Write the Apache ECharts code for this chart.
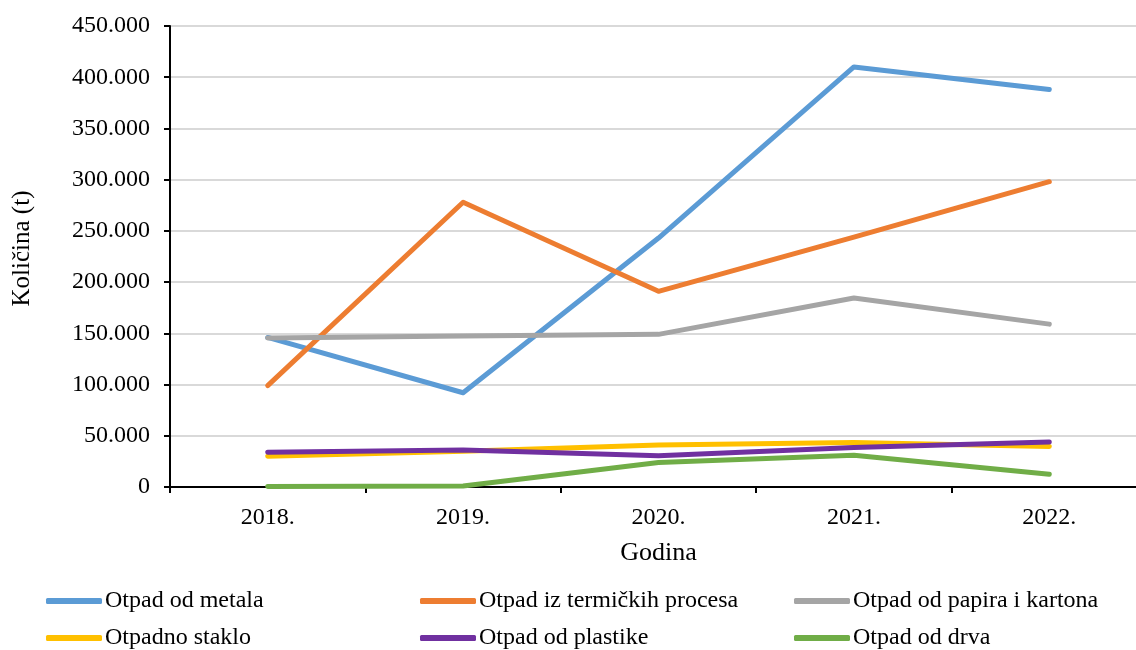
<!DOCTYPE html>
<html>
<head>
<meta charset="utf-8">
<script src="https://cdn.jsdelivr.net/npm/echarts@6/dist/echarts.min.js"></script>
<style>
html,body{margin:0;padding:0;background:#fff;}
#chart{width:1136px;height:650px;}
</style>
</head>
<body>
<div id="chart"></div>
<script>
const categories = ['2018.', '2019.', '2020.', '2021.', '2022.'];
const metal = [146000, 92000, 243000, 410000, 388000];
const termicki = [99000, 278000, 191000, 244000, 298000];
const papir = [145500, 147500, 149000, 184500, 159000];
const staklo = [30000, 35000, 41000, 43500, 39500];
const plastika = [34000, 36000, 30500, 38500, 44000];
const drvo = [500, 1000, 24000, 31000, 12500];

const seriesNames = ['Otpad od metala', 'Otpad iz termičkih procesa', 'Otpad od papira i kartona', 'Otpadno staklo', 'Otpad od plastike', 'Otpad od drva'];
const seriesData = [metal, termicki, papir, staklo, plastika, drvo];
const colors = ['#5B9BD5', '#ED7D31', '#A5A5A5', '#FFC000', '#7030A0', '#70AD47'];

const font = 'Liberation Serif, Times New Roman, serif';
const chart = echarts.init(document.getElementById('chart'));

const legendPos = [[46, 589], [420, 589], [794, 589], [46, 626], [420, 626], [794, 626]];
const legends = seriesNames.map((n, i) => ({
  data: [n],
  left: legendPos[i][0],
  top: legendPos[i][1],
  icon: 'roundRect',
  itemWidth: 56,
  itemHeight: 6,
  itemGap: 0,
  padding: 0,
  textStyle: { fontFamily: font, fontSize: 24, color: '#000', padding: [0, 0, 0, -2] }
}));

function fmt(v) {
  return String(v).replace(/\B(?=(\d{3})+(?!\d))/g, '.');
}

chart.setOption({
  animation: false,
  color: colors,
  legend: legends,
  grid: { left: 170, top: 26, width: 977, height: 461, outerBoundsMode: 'none', containLabel: false },
  xAxis: {
    type: 'category',
    data: categories,
    boundaryGap: true,
    name: 'Godina',
    nameLocation: 'middle',
    nameGap: 53,
    nameTextStyle: { fontFamily: font, fontSize: 26, color: '#000' },
    axisLine: { lineStyle: { color: '#000', width: 2 } },
    axisTick: { show: true, length: 6, lineStyle: { color: '#000', width: 2 } },
    axisLabel: { fontFamily: font, fontSize: 24, color: '#000', margin: 19 },
    splitLine: { show: false }
  },
  yAxis: {
    type: 'value',
    min: 0,
    max: 450000,
    interval: 50000,
    name: 'Količina (t)',
    nameLocation: 'middle',
    nameGap: 135,
    nameRotate: 90,
    nameTextStyle: { fontFamily: font, fontSize: 25, color: '#000', padding: [0, 0, 0, 16] },
    axisLine: { show: true, lineStyle: { color: '#000', width: 2 } },
    axisTick: { show: true, length: 6, lineStyle: { color: '#000', width: 2 } },
    axisLabel: { fontFamily: font, fontSize: 24, color: '#000', margin: 20, formatter: fmt },
    splitLine: { lineStyle: { color: '#D9D9D9', width: 2 } }
  },
  series: seriesNames.map((n, i) => ({
    name: n,
    type: 'line',
    data: seriesData[i],
    symbol: 'none',
    lineStyle: { width: 5, color: colors[i], cap: 'round', join: 'round' },
    itemStyle: { color: colors[i] }
  }))
});
</script>
</body>
</html>
